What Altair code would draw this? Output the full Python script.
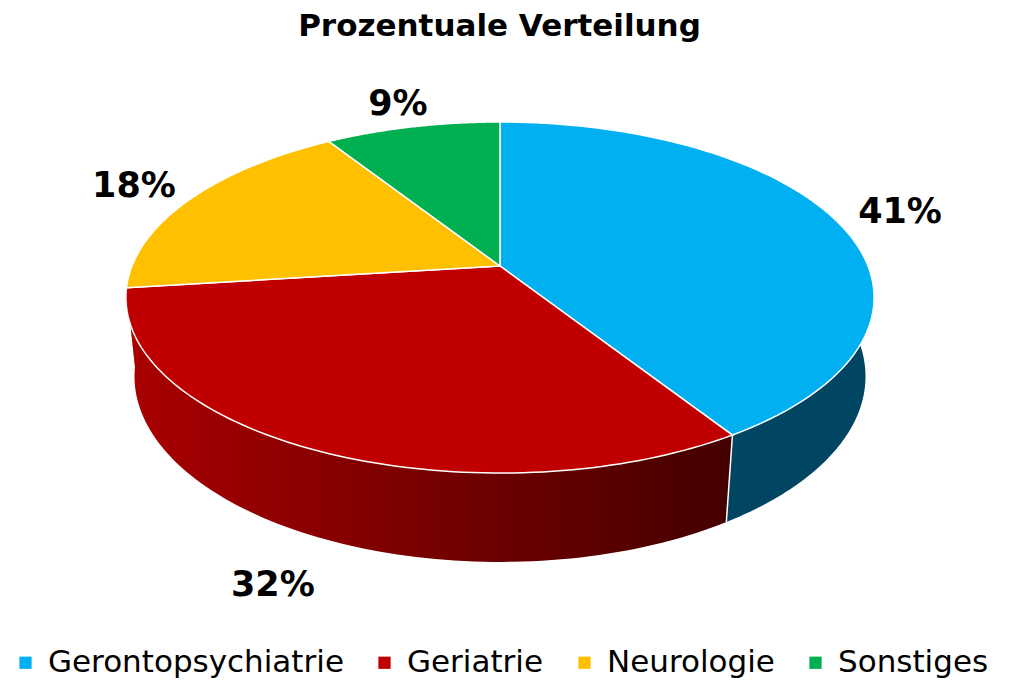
import altair as alt
import pandas as pd

# ---- data ----
categories = ["Gerontopsychiatrie", "Geriatrie", "Neurologie", "Sonstiges"]
values = [41, 32, 18, 9]
top_colors = ["#00B0F0", "#C00000", "#FFC000", "#00B050"]
side_colors = ["#004562", "#7a0000", "#a07800", "#006b30"]

df = pd.DataFrame({"cat": categories, "value": values, "idx": list(range(len(categories)))})

# ---- 3D projection parameters (styling) ----
F, D, S, C, H = 1818, 4.94, 0.4616, 0.887, 0.244
N = 90
R_LABEL = 1.2

TITLE_SIZE, TITLE_OFFSET, PAD_TOP = 31, 5, 3
W = 997
TY = 8 + PAD_TOP + TITLE_SIZE + TITLE_OFFSET
HP = 674 - (TY - 8) - 2
CX, CY = 500, 265  # pie vertex in page coords
hi = CY - TY
xs = alt.Scale(domain=[8 - CX, 8 - CX + W], nice=False, zero=False)
ys = alt.Scale(domain=[hi - HP, hi], nice=False, zero=False)

base = (
    alt.Chart(df)
    .transform_joinaggregate(total="sum(value)")
    .transform_window(cum="sum(value)", sort=[alt.SortField("idx")], frame=[None, 0])
    .transform_calculate(
        t0="2*PI*(datum.cum-datum.value)/datum.total",
        t1="2*PI*datum.cum/datum.total",
    )
)

enc_xy = dict(
    x=alt.X("px:Q", scale=xs, axis=None),
    y=alt.Y("py:Q", scale=ys, axis=None),
    order=alt.Order("k:Q"),
)

# top surface
top = (
    base.transform_calculate(k=f"sequence(0, {N + 2})")
    .transform_flatten(["k"])
    .transform_calculate(
        th=f"datum.t0 + (datum.t1 - datum.t0) * (datum.k - 1) / {N}",
        r="datum.k == 0 ? 0 : 1",
        den=f"{D} + datum.r * cos(datum.th) * {C}",
        px=f"{F} * datum.r * sin(datum.th) / datum.den",
        py=f"{F} * datum.r * cos(datum.th) * {S} / datum.den",
    )
    .mark_line(filled=True, interpolate="linear-closed", stroke="white", strokeWidth=1.5)
    .encode(
        color=alt.Color(
            "cat:N",
            scale=alt.Scale(domain=categories, range=top_colors),
            sort=categories,
            legend=alt.Legend(
                orient="none", legendX=2, legendY=662 - TY - 16, direction="horizontal", columns=4,
                title=None, symbolType="square", symbolSize=150, symbolStrokeWidth=0,
                labelFontSize=31, labelFont="DejaVu Sans", labelColor="#000000", labelLimit=500,
                columnPadding=25, labelOffset=7, padding=0,
            ),
        ),
        **enc_xy,
    )
)

# side walls
wall_base = (
    base.transform_calculate(a="max(datum.t0, PI/2)", b="min(datum.t1, 3*PI/2)")
    .transform_filter("datum.a < datum.b")
    .transform_calculate(k=f"sequence(0, {2 * N + 2})")
    .transform_flatten(["k"])
    .transform_calculate(
        th=f"datum.k <= {N} ? datum.a + (datum.b - datum.a) * datum.k / {N} : datum.b - (datum.b - datum.a) * (datum.k - {N + 1}) / {N}",
        yy=f"datum.k > {N} ? -{H} : 0",
        den=f"{D} + cos(datum.th) * {C} - datum.yy * {S}",
        px=f"{F} * sin(datum.th) / datum.den",
        py=f"{F} * (cos(datum.th) * {S} + datum.yy * {C}) / datum.den",
    )
)

red_gradient = alt.Gradient(
    gradient="linear",
    stops=[alt.GradientStop(color="#aa0000", offset=0), alt.GradientStop(color="#440000", offset=1)],
    x1=0, x2=1, y1=0, y2=0,
)

walls = []
for i in [2, 3, 0, 1]:
    fill = red_gradient if i == 1 else side_colors[i]
    walls.append(
        wall_base.transform_filter(alt.datum.cat == categories[i])
        .mark_line(filled=True, interpolate="linear-closed", fill=fill, strokeWidth=0)
        .encode(**enc_xy)
    )

# white edges between visible wall segments
edges = (
    base.transform_filter(f"cos(datum.t1) < -1/({D}*{C}) && datum.t1 < 2*PI - 0.001")
    .transform_calculate(
        px=f"{F} * sin(datum.t1) / ({D} + cos(datum.t1) * {C})",
        py=f"{F} * cos(datum.t1) * {S} / ({D} + cos(datum.t1) * {C})",
        px2=f"{F} * sin(datum.t1) / ({D} + cos(datum.t1) * {C} + {H} * {S})",
        py2=f"{F} * (cos(datum.t1) * {S} - {H} * {C}) / ({D} + cos(datum.t1) * {C} + {H} * {S})",
    )
    .mark_rule(color="white", strokeWidth=1.5)
    .encode(
        x=alt.X("px:Q", scale=xs, axis=None), y=alt.Y("py:Q", scale=ys, axis=None),
        x2="px2:Q", y2="py2:Q",
    )
)

# percentage labels
labels = (
    base.transform_calculate(
        th="(datum.t0 + datum.t1) / 2",
        yy=f"cos(datum.th) < 0 ? -{H} : 0",
        den=f"{D} + {R_LABEL} * cos(datum.th) * {C} - datum.yy * {S}",
        px=f"{F} * {R_LABEL} * sin(datum.th) / datum.den",
        py=f"{F} * ({R_LABEL} * cos(datum.th) * {S} + datum.yy * {C}) / datum.den",
        txt="format(datum.value / datum.total, '.0%')",
    )
    .mark_text(font="DejaVu Sans", fontWeight="bold", fontSize=35, color="#000000",
               align="center", baseline="middle")
    .encode(
        x=alt.X("px:Q", scale=xs, axis=None), y=alt.Y("py:Q", scale=ys, axis=None),
        text="txt:N",
    )
)

chart = (
    alt.layer(*walls, top, edges, labels)
    .properties(
        width=W, height=HP,
        title=alt.TitleParams("Prozentuale Verteilung", font="DejaVu Sans", fontSize=TITLE_SIZE,
                              fontWeight="bold", anchor="middle", offset=TITLE_OFFSET, dx=-7,
                              color="#000000"),
        padding={"top": PAD_TOP, "left": 0, "right": 0, "bottom": 0},
    )
    .configure_view(stroke=None)
)

chart.save("out.html", embed_options={"renderer": "svg", "actions": False})
